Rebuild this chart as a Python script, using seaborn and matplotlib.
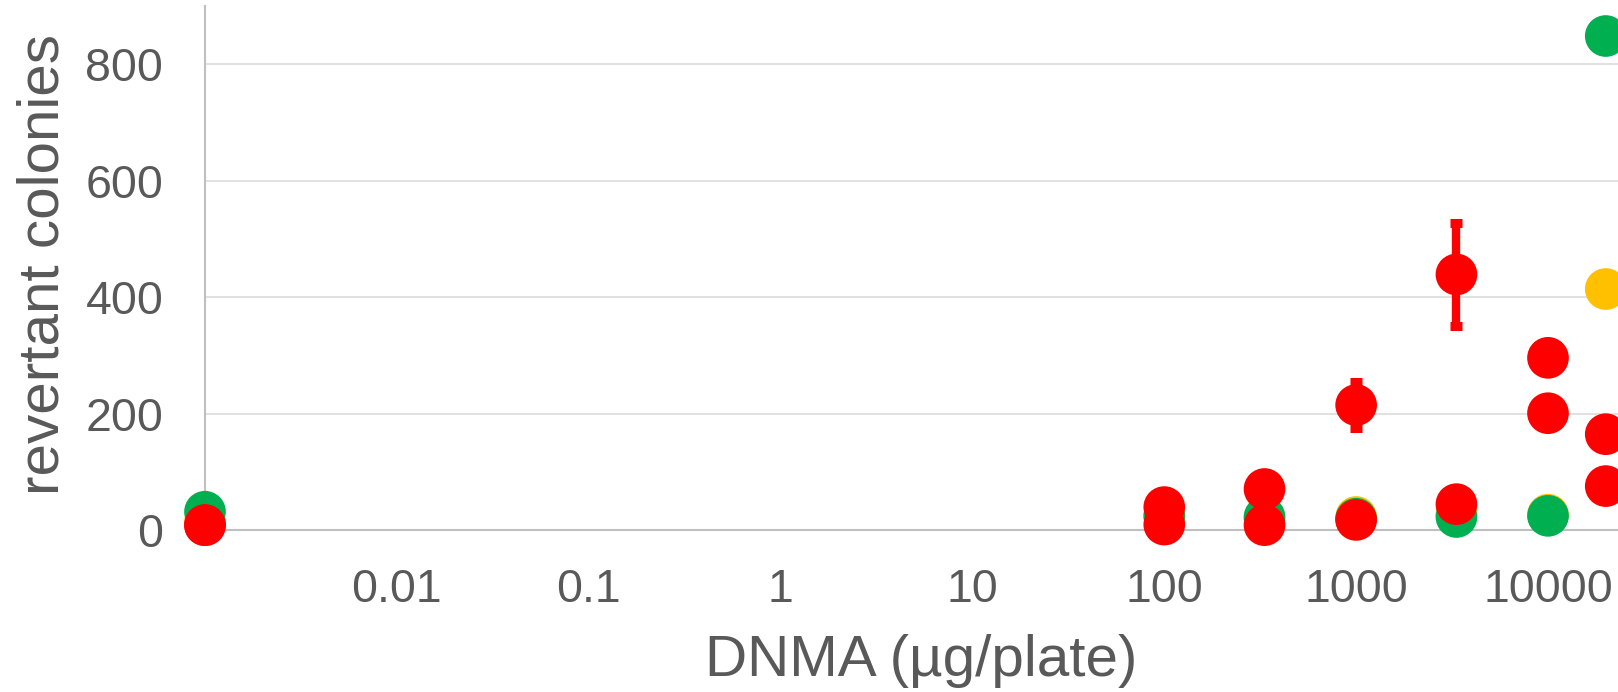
import matplotlib
matplotlib.use("Agg")
import matplotlib.pyplot as plt
from matplotlib.ticker import FixedLocator, FixedFormatter, NullFormatter
import numpy as np
import pandas as pd
import seaborn as sns

# Dose levels (µg/plate); the solvent control sits at the left end of the log axis
doses = [0.001, 100, 333, 1000, 3333, 10000, 20000]

# Mean revertant colonies per plate for each series
yellow_counts = [15, 24, 20, 23, 28, 27, 414]
green_counts = [32, 25, 23, 20, 23, 25, 848]
red_a_counts = [9, 40, 71, 215, 439, 296, 165]
red_a_err = [0, 0, 0, 40, 88, 0, 0]
red_b_counts = [9, 10, 9, 18, 45, 201, 76]

# drawing order: yellow, then green, then the two red series on top
series_names = ["yellow", "green", "red_a", "red_b"]
series_colors = ["#FFC000", "#00B050", "#FF0000", "#FF0000"]

major_ticks = [0.01, 0.1, 1, 10, 100, 1000, 10000]
major_labels = ["0.01", "0.1", "1", "10", "100", "1000", "10000"]
y_ticks = [0, 200, 400, 600, 800]

TEXT = "#595959"
AXIS = "#BFBFBF"
GRID = "#D9D9D9"

sns.set_style("white")
plt.rcParams["font.family"] = ["Liberation Sans", "DejaVu Sans"]

df = pd.concat(
    [
        pd.DataFrame({"dose": doses, "count": vals, "series": name})
        for name, vals in zip(series_names, [yellow_counts, green_counts, red_a_counts, red_b_counts])
    ],
    ignore_index=True,
)

fig = plt.figure(figsize=(16.18, 6.92), dpi=100)
ax = fig.add_axes([205 / 1618, (692 - 530.4) / 692, 1413 / 1618, 524.7 / 692])

ax.set_xscale("log")
ax.set_xlim(1e-3, 10 ** (4 + 70 / 191.86))
ax.set_ylim(0, 900)

# error bars for the red series
err_x = [d for d, e in zip(doses, red_a_err) if e > 0]
err_y = [c for c, e in zip(red_a_counts, red_a_err) if e > 0]
err_v = [e for e in red_a_err if e > 0]
ax.errorbar(err_x, err_y, yerr=err_v, fmt="none", ecolor="#FF0000",
            elinewidth=6, capsize=4.3, capthick=6.5, zorder=3, clip_on=False)

sns.scatterplot(data=df, x="dose", y="count", hue="series",
                palette=dict(zip(series_names, series_colors)),
                s=900, linewidth=0, legend=False, ax=ax,
                clip_on=False, zorder=4)

# axes styling
for side in ["top", "right"]:
    ax.spines[side].set_visible(False)
for side in ["left", "bottom"]:
    ax.spines[side].set_color(AXIS)
    ax.spines[side].set_linewidth(1.5)

ax.set_yticks(y_ticks)
ax.yaxis.grid(True, color=GRID, linewidth=1.1)
ax.xaxis.grid(False)
ax.set_axisbelow(True)

ax.xaxis.set_major_locator(FixedLocator(major_ticks))
ax.xaxis.set_major_formatter(FixedFormatter(major_labels))
minor = [m * 10.0 ** k for k in range(-3, 5) for m in range(2, 10)]
ax.xaxis.set_minor_locator(FixedLocator(minor))
ax.xaxis.set_minor_formatter(NullFormatter())

ax.tick_params(axis="x", which="major", direction="in", length=12.5, width=1.5,
               color=AXIS, labelsize=33.5, labelcolor=TEXT, pad=27.3)
ax.tick_params(axis="x", which="minor", direction="in", length=9, width=1.5, color=AXIS)
ax.tick_params(axis="y", length=0, pad=30, labelsize=33.5, labelcolor=TEXT)

ax.set_xlabel("DNMA (µg/plate)", fontsize=42, color=TEXT)
ax.set_ylabel("revertant colonies", fontsize=42, color=TEXT)
ax.xaxis.set_label_coords(0.5067, -0.197)
ax.yaxis.set_label_coords(-0.0955, 0.506)

fig.savefig("out.png", dpi=100)
